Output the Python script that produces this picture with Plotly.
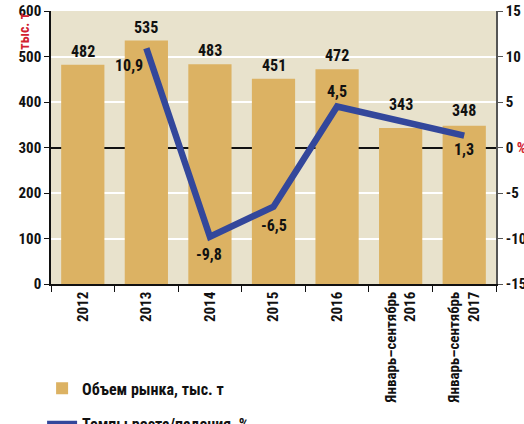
import plotly.graph_objects as go

categories = ["2012", "2013", "2014", "2015", "2016",
              "Январь–сентябрь<br>2016", "Январь–сентябрь<br>2017"]
volume = [482, 535, 483, 451, 472, 343, 348]
growth = [None, 10.9, -9.8, -6.5, 4.5, None, 1.3]
growth_labels = [None, "10,9", "-9,8", "-6,5", "4,5", None, "1,3"]
left_ticks = [0, 100, 200, 300, 400, 500, 600]
right_ticks = [-15, -10, -5, 0, 5, 10, 15]

FONT = "Liberation Sans Narrow, Roboto Condensed, Arial Narrow, Liberation Sans, sans-serif"
BAR_C = "#DCB263"
LINE_C = "#33479B"
BG = "#E8E2CC"

fig = go.Figure()
fig.add_trace(go.Bar(
    x=categories, y=volume, name="<b>Объем рынка, тыс. т</b>",
    marker=dict(color=BAR_C, line=dict(width=0)),
    legendgroup="a",
))
fig.add_trace(go.Scatter(
    x=categories, y=growth, yaxis="y2", mode="lines", connectgaps=True,
    name="<b>Темпы роста/падения, %</b>",
    line=dict(color=LINE_C, width=6.5), legendgroup="b",
))

# bar value labels
bar_shift = [4, 4, 4, 4, 4, 14, 6]
for i, v in enumerate(volume):
    fig.add_annotation(x=i, xref="x", y=v, yref="y", text=f"<b>{v}</b>",
                       showarrow=False, yanchor="bottom", yshift=bar_shift[i] - 2,
                       font=dict(family=FONT, size=16, color="#111"))

# growth labels
offsets = {1: (-17, -17), 2: (-1, -18), 3: (0, -19), 4: (0, 15), 6: (0, -14)}
for i, lab in enumerate(growth_labels):
    if lab is None:
        continue
    dx, dy = offsets[i]
    fig.add_annotation(x=i, xref="x", y=growth[i], yref="y2", text=f"<b>{lab}</b>",
                       showarrow=False, xshift=dx, yshift=dy,
                       font=dict(family=FONT, size=16, color="#111"))

fig.add_annotation(xref="paper", yref="paper", x=-0.085, y=1.0, yanchor="top",
                   text="<b>тыс. т</b>", textangle=-90, showarrow=False,
                   font=dict(family=FONT, size=14, color="#D2202F"))

fig.update_layout(
    width=524, height=424,
    margin=dict(l=51, r=28, t=11, b=140, autoexpand=False),
    paper_bgcolor="white", plot_bgcolor=BG,
    bargap=0.32,
    font=dict(family=FONT, size=15, color="#111"),
    xaxis=dict(type="category", range=[-0.5, len(categories) - 0.5], automargin=False,
               tickangle=-90, tickson="boundaries", ticks="outside", ticklen=6,
               tickcolor="#111", showline=True, linecolor="#111", linewidth=1.5,
               showgrid=False, tickfont=dict(family=FONT, size=15, color="#111"),
               tickprefix="<b>", ticksuffix="</b>"),
    yaxis=dict(range=[0, 600], tickvals=left_ticks, automargin=False,
               ticktext=[f"<b>{t}</b>" for t in left_ticks],
               ticks="outside", ticklen=5, tickcolor="#111",
               showline=True, linecolor="#111", linewidth=1.5,
               gridcolor="white", gridwidth=2, zeroline=False,
               tickfont=dict(family=FONT, size=15, color="#111")),
    yaxis2=dict(range=[-15, 15], overlaying="y", side="right", tickvals=right_ticks,
                automargin=False,
                ticktext=[("<b>0 </b><span style='color:#D2202F'><b>%</b></span>" if t == 0 else f"<b>{t}</b>") for t in right_ticks],
                ticks="outside", ticklen=5, tickcolor="#555",
                showline=True, linecolor="#555", linewidth=1.5,
                showgrid=False, zeroline=True, zerolinecolor="#111", zerolinewidth=1.5,
                tickfont=dict(family=FONT, size=15, color="#111")),
    legend=dict(x=-0.02, y=-0.32, xanchor="left", yanchor="top", traceorder="grouped",
                tracegroupgap=12, bgcolor="rgba(0,0,0,0)",
                font=dict(family=FONT, size=16, color="#111")),
    showlegend=True,
)

fig.write_html("out.html", config={"displayModeBar": False},
               post_script="document.body.style.margin='0';")
